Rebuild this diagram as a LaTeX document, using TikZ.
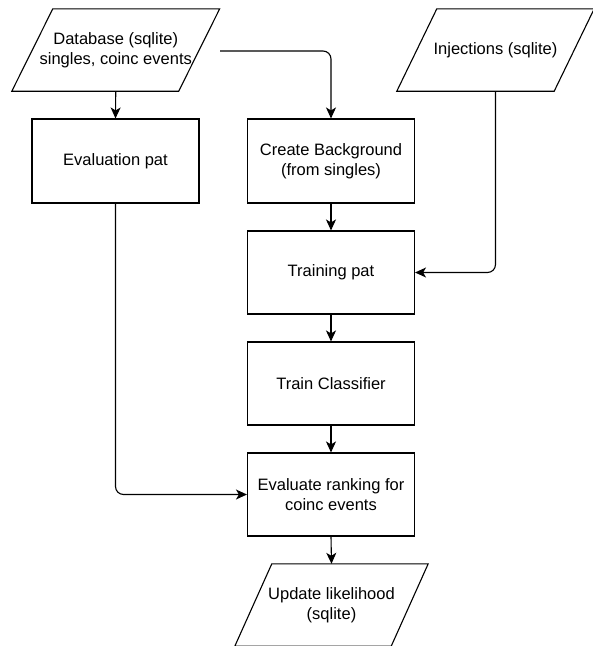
\documentclass[tikz,border=0pt]{standalone}
\usepackage{fontspec}
\setmainfont{Liberation Sans}
\usetikzlibrary{arrows.meta}
\begin{document}
\begin{tikzpicture}[x=1pt,y=-1pt,
  every node/.style={font=\fontsize{16.5}{19.5}\selectfont, align=center, inner sep=0pt},
  box/.style={draw, line width=1.1pt, minimum width=167pt, minimum height=84pt},
  para/.style={draw=none, minimum height=82pt},
  arr/.style={line width=1.1pt, -{Stealth[length=11pt,width=10pt,inset=3pt]}, rounded corners=8pt}
]
\useasboundingbox (0,0) rectangle (593,646);
% parallelogram anchors (invisible rectangles of mid-width)
\node[para, minimum width=166.5pt] (db) at (115.75,50) {Database (sqlite)\\singles, coinc events};
\node[para, minimum width=157pt] (inj) at (495.5,50) {Injections (sqlite)};
\node[para, minimum width=156pt] (upd) at (331.5,605) {Update likelihood\\(sqlite)};
\foreach \n/\s in {db/20.5, inj/20, upd/18.5}{
  \draw[line width=1.1pt] ([xshift=\s pt]\n.north west) -- ([xshift=\s pt]\n.north east)
    -- ([xshift=-\s pt]\n.south east) -- ([xshift=-\s pt]\n.south west) -- cycle;
}
% boxes
\node[box] (eval) at (115.5,161) {Evaluation pat};
\node[box] (bg) at (331,161) {Create Background\\(from singles)};
\node[box, minimum height=83pt] (train) at (331,272.5) {Training pat};
\node[box, minimum height=83pt] (clf) at (331,383.5) {Train Classifier};
\node[box, minimum height=83pt] (rank) at (331,494.5) {Evaluate ranking for\\coinc events};
% connectors
\draw[arr] (db.south) -- (eval.north);
\draw[arr] ([xshift=21pt,yshift=-1pt]db.east) -| (bg.north);
\draw[arr] (bg.south) -- (train.north);
\draw[arr] (inj.south) |- (train.east);
\draw[arr] (train.south) -- (clf.north);
\draw[arr] (clf.south) -- (rank.north);
\draw[arr] (eval.south) |- (rank.west);
\draw[arr] (rank.south) -- (upd.north);
\end{tikzpicture}
\end{document}
